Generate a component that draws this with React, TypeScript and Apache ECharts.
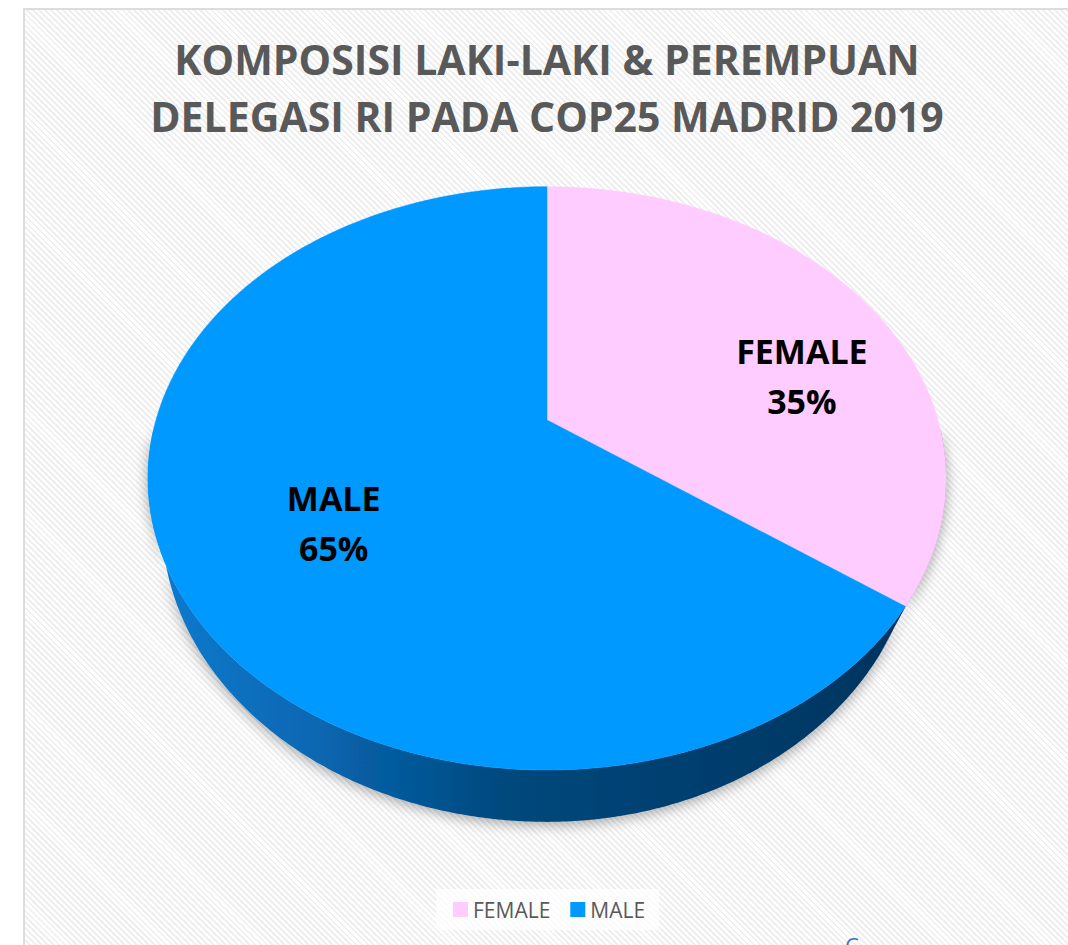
import React, { useEffect, useRef } from "react";
import * as echarts from "echarts";

// ---- data ----
const CATEGORIES = ["FEMALE", "MALE"];
const VALUES = [35, 65];
const TITLE_LINES = ["KOMPOSISI LAKI-LAKI & PEREMPUAN", "DELEGASI RI PADA COP25 MADRID 2019"];

// ---- styles / layout ----
const TOP_COLORS = ["#FFCCFF", "#0099FF"];
const SIDE_STOPS = [
  [
    { offset: 0, color: "#b884b8" },
    { offset: 1, color: "#7a4a7a" },
  ],
  [
    { offset: 0, color: "#0b7bd0" },
    { offset: 0.22, color: "#0766b0" },
    { offset: 0.45, color: "#04487c" },
    { offset: 1, color: "#02325c" },
  ],
];
const CX = 547;
const CY = 420;
const RX = 391;
const RY = 280;
const DEPTH = 41.5;
const PERSP = 0.2;
const SHRINK_RIGHT = 0.93;
const SHRINK_LEFT = 0.965;
const TITLE_X = 542;
// label anchor fractions on the visual ellipse
const LABEL_FRAC = [
  [0.717, 0.77],
  [0.6, 0.34],
];
const VIS_CY = 478;
const VIS_RX = 399;
const VIS_RY = 292;

function proj(deg: number, r: number, h: number): number[] {
  const t = (deg * Math.PI) / 180;
  const u = r * Math.sin(t);
  const v = -r * Math.cos(t);
  const s = 1 / (1 - PERSP * v);
  const q = h ? (u > 0 ? SHRINK_RIGHT : SHRINK_LEFT) : 1;
  return [CX + RX * u * s * q, CY + RY * v * s + DEPTH * h * s];
}

function arc(a0: number, a1: number, h: number): number[][] {
  const pts: number[][] = [];
  const n = Math.max(2, Math.ceil(Math.abs(a1 - a0) / 0.5));
  for (let k = 0; k <= n; k++) {
    pts.push(proj(a0 + ((a1 - a0) * k) / n, 1, h));
  }
  return pts;
}

const SIDE_MIN = 92;
const SIDE_MAX = 268;

export default function App() {
  const ref = useRef<HTMLDivElement>(null);
  useEffect(() => {
    document.body.style.margin = "0";
    const chart = echarts.init(ref.current!, null, { renderer: "svg" });
    const total = VALUES.reduce((a, b) => a + b, 0);

    const series = CATEGORIES.map((name, i) => ({
      type: "custom",
      name,
      coordinateSystem: "none",
      itemStyle: { color: TOP_COLORS[i] },
      data: [VALUES[i]],
      renderItem: (params: any, api: any) => {
        const value = api.value(0);
        let before = 0;
        for (let j = 0; j < i; j++) before += VALUES[j];
        const a0 = (before / total) * 360;
        const a1 = ((before + value) / total) * 360;
        const children: any[] = [];
        const lo = Math.max(a0, SIDE_MIN);
        const hi = Math.min(a1, SIDE_MAX);
        if (lo < hi) {
          const pts = arc(lo, hi, 0).concat(arc(hi, lo, 1));
          children.push({
            type: "polygon",
            z2: 1,
            shape: { points: pts },
            style: {
              fill: new echarts.graphic.LinearGradient(148, 0, 946, 0, SIDE_STOPS[i], true),
              shadowBlur: 14,
              shadowColor: "rgba(0,0,0,0.35)",
              shadowOffsetY: 3,
            },
          });
        }
        const top = [proj(0, 0, 0)].concat(arc(a0, a1, 0));
        children.push({
          type: "polygon",
          z2: 5,
          shape: { points: top },
          style: { fill: TOP_COLORS[i], stroke: TOP_COLORS[i], lineWidth: 0.5 },
        });
        const mid = (((a0 + a1) / 2) * Math.PI) / 180;
        const lx = CX + VIS_RX * Math.sin(mid) * LABEL_FRAC[i][0];
        const ly = VIS_CY - VIS_RY * Math.cos(mid) * LABEL_FRAC[i][1];
        const pct = Math.round((value / total) * 100);
        children.push({
          type: "text",
          z2: 10,
          x: lx,
          y: ly,
          style: {
            text: name + "\n" + pct + "%",
            fontSize: 34,
            fontWeight: "bold",
            fontFamily: "Open Sans",
            fill: "#000000",
            align: "center",
            verticalAlign: "middle",
            lineHeight: 50,
          },
        });
        return { type: "group", children };
      },
    }));

    chart.setOption({
      animation: false,
      backgroundColor: "transparent",
      title: {
        text: TITLE_LINES.join("\n"),
        left: TITLE_X,
        textAlign: "center",
        top: 25,
        textStyle: {
          fontSize: 41,
          fontWeight: "bold",
          color: "#595959",
          fontFamily: "Open Sans",
          lineHeight: 57,
        },
      },
      legend: {
        data: CATEGORIES,
        left: 436,
        top: 889,
        icon: "rect",
        itemWidth: 15,
        itemHeight: 15,
        itemGap: 20,
        padding: [10, 14, 10, 17],
        backgroundColor: "rgba(255,255,255,0.75)",
        textStyle: { fontSize: 21, color: "#595959", fontFamily: "Open Sans" },
      },
      graphic: [
        {
          type: "text",
          x: 845,
          y: 934,
          style: { text: "C", fontSize: 22, fill: "#4472C4", fontFamily: "Open Sans" },
        },
      ],
      series,
    });
    return () => chart.dispose();
  }, []);

  return (
    <div style={{ position: "relative", width: 1068, height: 945, overflow: "hidden", background: "#fff" }}>
      <div
        style={{
          position: "absolute",
          left: 23,
          top: 8,
          width: 1100,
          height: 1000,
          border: "2px solid #dcdcdc",
          background:
            "repeating-linear-gradient(45deg, #ffffff 0px, #ffffff 2.2px, #efefef 2.2px, #efefef 4.2px)",
        }}
      />
      <div ref={ref} style={{ position: "absolute", left: 0, top: 0, width: 1068, height: 945 }} />
    </div>
  );
}
